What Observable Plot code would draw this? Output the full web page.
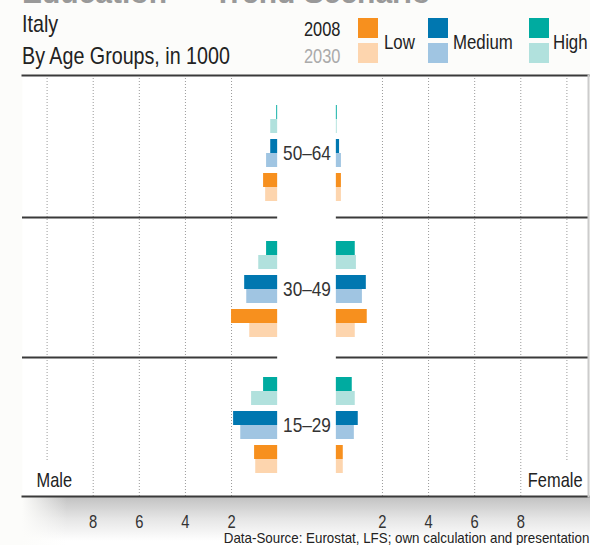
<!DOCTYPE html>
<html><head><meta charset="utf-8">
<script src="https://cdn.jsdelivr.net/npm/d3@7"></script>
<script src="https://cdn.jsdelivr.net/npm/@observablehq/plot@0.6"></script>
<style>
html,body{margin:0;padding:0;background:#fcfcfa;}
body{width:590px;height:545px;position:relative;overflow:hidden;
  font-family:"Liberation Sans",Arial,sans-serif;color:#222;}
.t{position:absolute;white-space:nowrap;transform:scaleX(0.82);transform-origin:0 50%;}
.t.r{transform-origin:100% 50%;}
#shadow{position:absolute;left:22px;top:497px;width:568px;height:48px;
  background:linear-gradient(to right,#fcfcfa 0px,rgba(252,252,250,0) 45px),linear-gradient(to bottom,#c2c2c2 0px,#e6e6e6 22px,#ffffff 44px);}
#chart{position:absolute;left:0;top:70px;}
.sw{position:absolute;width:20px;height:20px;}
</style></head><body>
<div id="shadow"></div>
<div id="chart"></div>
<div id="header"></div>
<script>
const ages = ["50–64", "30–49", "15–29"];
const levels = ["High", "Medium", "Low"];
const years = ["2008", "2030"];
const sexes = ["Male", "Female"];
// values per age group, in order High, Medium, Low
const male2008   = [[0.04, 0.30, 0.61], [0.48, 1.43, 2.00], [0.61, 1.91, 1.00]];
const male2030   = [[0.30, 0.48, 0.52], [0.82, 1.34, 1.21], [1.13, 1.60, 0.95]];
const female2008 = [[0.04, 0.14, 0.22], [0.82, 1.30, 1.34], [0.69, 0.95, 0.30]];
const female2030 = [[0.04, 0.22, 0.22], [0.87, 1.13, 0.82], [0.82, 0.78, 0.30]];
const tickValues = [2, 4, 6, 8];
const gridValues = [2, 4, 6, 8, 10];
const legendOrder = ["Low", "Medium", "High"];
const colors2008 = ["#f7901e", "#0077b0", "#00aba0"];
const colors2030 = ["#fdd5ae", "#a0c5e2", "#b1e1dd"];
const titleText = "Education — Trend Scenario";
const countryText = "Italy";
const subtitleText = "By Age Groups, in 1000";
const captionText = "Data-Source: Eurostat, LFS; own calculation and presentation";

const FONT = '"Liberation Sans",Arial,sans-serif';
const NARROW = 0.82;           // horizontal condensing of the text
const g = 1.273;               // half of the central gap, in value units
const xDomain = [-12.34, 12.21];

// rows of the band scale: 3 levels per age group, a separator row between groups
const rows = [];
ages.forEach((a, i) => {
  levels.forEach(l => rows.push(a + "|" + l));
  if (i < ages.length - 1) rows.push("sep" + i);
});

const series = {Male: {"2008": male2008, "2030": male2030}, Female: {"2008": female2008, "2030": female2030}};
const bars = [];
for (const s of sexes) {
  const sign = s === "Male" ? -1 : 1;
  for (const y of years) {
    ages.forEach((a, i) => levels.forEach((l, j) => {
      const v = series[s][y][i][j];
      bars.push({sex: s, year: y, age: a, level: l, row: a + "|" + l, key: l + " " + y,
                 x1: sign * g, x2: sign * (g + v)});
    }));
  }
}
const colorDomain = [], colorRange = [];
legendOrder.forEach((l, i) => {
  colorDomain.push(l + " 2008", l + " 2030");
  colorRange.push(colors2008[i], colors2030[i]);
});

const grid = [];
for (const s of sexes) for (const v of gridValues) grid.push({x: (s === "Male" ? -1 : 1) * (v + g), v});
const ticks = [...tickValues.map(v => -(v + g)).reverse(), ...tickValues.map(v => v + g)];

const sepRows = rows.filter(r => r.startsWith("sep"));
const sepSegs = r => [{row: r, x1: xDomain[0], x2: -g}, {row: r, x1: g, x2: xDomain[1]}];
const sepStyle = {y: "row", x1: "x1", x2: "x2", stroke: "#3a3a3a", strokeWidth: 2};

const plot = Plot.plot({
  width: 590,
  height: 475,
  marginTop: 5,
  marginBottom: 49,
  marginLeft: 22,
  marginRight: 2,
  style: {fontFamily: FONT, fontSize: "18px", background: "transparent", color: "#333", overflow: "visible"},
  x: {domain: xDomain, ticks: ticks, tickFormat: d => String(Math.round(Math.abs(d) - g)), tickSize: 0, tickPadding: 19, label: null},
  y: {domain: rows, range: [35, 403], paddingInner: 6 / 34, paddingOuter: 0, round: false, axis: null},
  color: {domain: colorDomain, range: colorRange},
  marks: [
    Plot.frame({fill: "white", stroke: "none"}),
    Plot.ruleX(grid.filter(d => d.v < 10), {x: "x", stroke: "#9a9a9a", strokeWidth: 1, strokeDasharray: "1,2"}),
    Plot.ruleX(grid.filter(d => d.v >= 10), {x: "x", stroke: "#9a9a9a", strokeWidth: 1, strokeDasharray: "1,2", insetBottom: 34}),
    Plot.barX(bars.filter(d => d.year === "2008"), {y: "row", x1: "x1", x2: "x2", fill: "key", insetBottom: 14}),
    Plot.barX(bars.filter(d => d.year === "2030"), {y: "row", x1: "x1", x2: "x2", fill: "key", insetTop: 14}),
    Plot.ruleY(sepSegs(sepRows[0]), {...sepStyle, dy: -4}),
    Plot.ruleY(sepSegs(sepRows[1]), sepStyle),
    Plot.text(ages, {x: () => 0, y: a => a + "|Medium", text: d => d, fontSize: 21, fill: "#333"}),
    Plot.text(["Male"], {frameAnchor: "bottom-left", textAnchor: "start", lineAnchor: "middle", dx: 14, dy: -16, fontSize: 20, fill: "#222"}),
    Plot.text(["Female"], {frameAnchor: "bottom-right", textAnchor: "end", lineAnchor: "middle", dx: -6, dy: -16, fontSize: 20, fill: "#222"}),
    Plot.frame({anchor: "top", stroke: "#3a3a3a", strokeWidth: 2}),
    Plot.frame({anchor: "bottom", stroke: "#3a3a3a", strokeWidth: 2}),
    Plot.frame({anchor: "right", stroke: "#cccccc", strokeWidth: 2})
  ]
});
// condense every svg text horizontally around its own anchor
d3.select(plot).selectAll("text").each(function () {
  const xa = parseFloat(this.getAttribute("x"));
  const x = isFinite(xa) ? xa : 0;
  const t = this.getAttribute("transform") || "";
  this.setAttribute("transform", `${t} translate(${x},0) scale(${NARROW},1) translate(${-x},0)`);
});
document.getElementById("chart").appendChild(plot);

// header: title, subtitle, legend, caption
const header = document.getElementById("header");
function addText(txt, css, cls) {
  const d = document.createElement("div");
  d.className = "t" + (cls ? " " + cls : "");
  d.textContent = txt;
  Object.assign(d.style, css);
  header.appendChild(d);
  return d;
}
addText(titleText, {left: "22px", top: "-22px", fontSize: "30px", lineHeight: "30px", fontWeight: "bold", color: "#999", transform: "none"});
addText(countryText, {left: "22px", top: "12px", fontSize: "24px", lineHeight: "24px", color: "#222"});
addText(subtitleText, {left: "22px", top: "44px", fontSize: "24px", lineHeight: "24px", color: "#222"});
addText(years[0], {left: "304px", top: "19px", fontSize: "20px", lineHeight: "20px", color: "#222"});
addText(years[1], {left: "304px", top: "46px", fontSize: "20px", lineHeight: "20px", color: "#aaa"});
const swX = [358, 428, 529], lblX = [384, 453, 553];
legendOrder.forEach((l, i) => {
  const a = document.createElement("div"); a.className = "sw";
  Object.assign(a.style, {left: swX[i] + "px", top: "18px", background: colors2008[i]});
  const b = document.createElement("div"); b.className = "sw";
  Object.assign(b.style, {left: swX[i] + "px", top: "43px", background: colors2030[i]});
  header.appendChild(a); header.appendChild(b);
  addText(l, {left: lblX[i] + "px", top: "32px", fontSize: "20.5px", lineHeight: "20px", color: "#222"});
});
addText(captionText, {right: "1px", top: "532px", fontSize: "14.5px", lineHeight: "13px", color: "#222", transform: "scaleX(0.92)"}, "r");
</script>
</body></html>
